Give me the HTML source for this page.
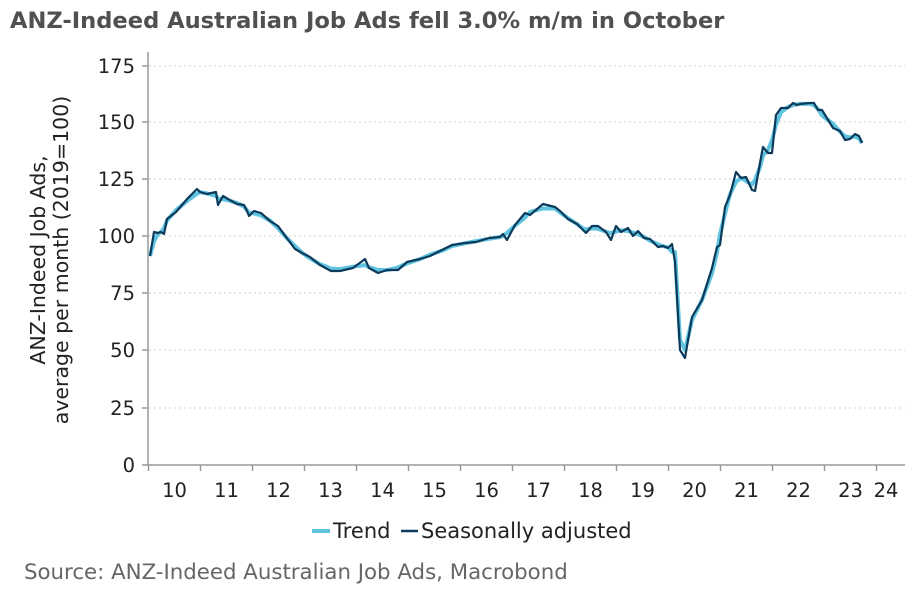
<!DOCTYPE html>
<html><head><meta charset="utf-8"><style>
body{margin:0;background:#fff;font-family:"DejaVu Sans","Liberation Sans",sans-serif;}
</style></head><body>
<svg width="910" height="589" xmlns="http://www.w3.org/2000/svg" font-family="DejaVu Sans, Liberation Sans, sans-serif">
<text x="10" y="28" font-size="22.6" font-weight="bold" fill="#505050">ANZ-Indeed Australian Job Ads fell 3.0% m/m in October</text>
<g stroke="#d0d0d0" stroke-dasharray="2,3" stroke-width="1">
<line x1="149" x2="905" y1="66" y2="66"/><line x1="149" x2="905" y1="122" y2="122"/>
<line x1="149" x2="905" y1="179" y2="179"/><line x1="149" x2="905" y1="236" y2="236"/>
<line x1="149" x2="905" y1="293" y2="293"/><line x1="149" x2="905" y1="350" y2="350"/>
<line x1="149" x2="905" y1="408" y2="408"/>
</g>
<g stroke="#999" stroke-width="1.5">
<line x1="148" x2="148" y1="52" y2="465"/><line x1="148" x2="905" y1="465" y2="465"/>
<line x1="142" x2="148" y1="66" y2="66"/><line x1="142" x2="148" y1="122" y2="122"/><line x1="142" x2="148" y1="179" y2="179"/><line x1="142" x2="148" y1="236" y2="236"/><line x1="142" x2="148" y1="293" y2="293"/><line x1="142" x2="148" y1="350" y2="350"/><line x1="142" x2="148" y1="408" y2="408"/><line x1="142" x2="148" y1="465" y2="465"/>
</g>
<g id="xt" stroke="#999" stroke-width="1.5"></g>
<g font-size="19.5" fill="#222" text-anchor="end">
<text x="135" y="73">175</text><text x="135" y="129">150</text><text x="135" y="186">125</text><text x="135" y="243">100</text><text x="135" y="300">75</text><text x="135" y="357">50</text><text x="135" y="415">25</text><text x="135" y="472">0</text>
</g>
<g id="xl" font-size="19.5" fill="#222" text-anchor="middle"></g>
<g font-size="20.5" fill="#222" text-anchor="middle">
<text transform="translate(45,260) rotate(-90)">ANZ-Indeed Job Ads,</text>
<text transform="translate(68,260) rotate(-90)">average per month (2019=100)</text>
</g>
<polyline id="tr" fill="none" stroke="#5fc4e0" stroke-width="4" stroke-linejoin="round"/>
<polyline id="sa" fill="none" stroke="#0b3a5a" stroke-width="2.2" stroke-linejoin="round"/>
<line x1="312" x2="330" y1="531" y2="531" stroke="#5fc4e0" stroke-width="4"/>
<text x="333" y="538" font-size="21" fill="#222">Trend</text>
<line x1="401" x2="418" y1="531" y2="531" stroke="#0b3a5a" stroke-width="2.5"/>
<text x="421" y="538" font-size="21" fill="#222">Seasonally adjusted</text>
<text x="24" y="579" font-size="21.3" fill="#666">Source: ANZ-Indeed Australian Job Ads, Macrobond</text>
</svg>
<script>
var xt=document.getElementById('xt'),xl=document.getElementById('xl'),ns='http://www.w3.org/2000/svg';
for(var i=0;i<15;i++){var x=148.5+52*i;var l=document.createElementNS(ns,'line');l.setAttribute('x1',x);l.setAttribute('x2',x);l.setAttribute('y1',465);l.setAttribute('y2',471);xt.appendChild(l);
var t=document.createElementNS(ns,'text');t.setAttribute('x',i==14?886:x+26);t.setAttribute('y',497);t.textContent=String(10+i);xl.appendChild(t);}
var p=[[150,256],[154,232],[158,233],[161,232],[164,234],[167,219],[176,212],[188,198],[197,189],[200,192],[207,194],[216,192],[218,205],[223,196],[228,199],[237,204],[244,205],[247,211],[249,216],[254,211],[261,213],[270,221],[278,226],[286,237],[295,249],[302,253],[310,257],[320,265],[331,271],[340,271],[353,268],[365,259],[369,268],[378,273],[387,270],[398,270],[407,262],[420,259],[430,256],[444,249],[452,245],[465,243],[476,242],[489,238],[500,237],[503,234],[507,240],[515,225],[525,213],[530,215],[543,204],[555,207],[560,211],[568,219],[577,224],[583,230],[586,233],[592,226],[598,226],[606,232],[611,240],[616,226],[621,232],[628,228],[633,236],[638,231],[644,238],[650,239],[658,247],[663,246],[668,248],[672,244],[675,262],[680,350],[685,358],[692,317],[702,300],[712,268],[717,247],[720,245],[725,207],[730,195],[736,172],[741,178],[746,177],[752,190],[755,191],[760,163],[763,147],[768,153],[772,153],[776,115],[781,108],[788,108],[793,103],[797,105],[800,104],[810,103],[814,103],[818,110],[822,110],[833,128],[840,131],[845,140],[850,139],[855,134],[859,136],[862,143]];
function s(a){return a.map(function(q){return q.join(',')}).join(' ')}
document.getElementById('sa').setAttribute('points',s(p));
var t=p.map(function(q){return q.slice()});
for(var k=0;k<2;k++){var n=t.map(function(q,i){if(i==0||i==t.length-1||(i>=72&&i<=76))return q.slice();return [q[0],(t[i-1][1]+2*q[1]+t[i+1][1])/4]});t=n;}
t[72][1]=252;t[73][1]=340;t[74][1]=350;t[75][1]=320;
document.getElementById('tr').setAttribute('points',s(t));
</script>
</body></html>
